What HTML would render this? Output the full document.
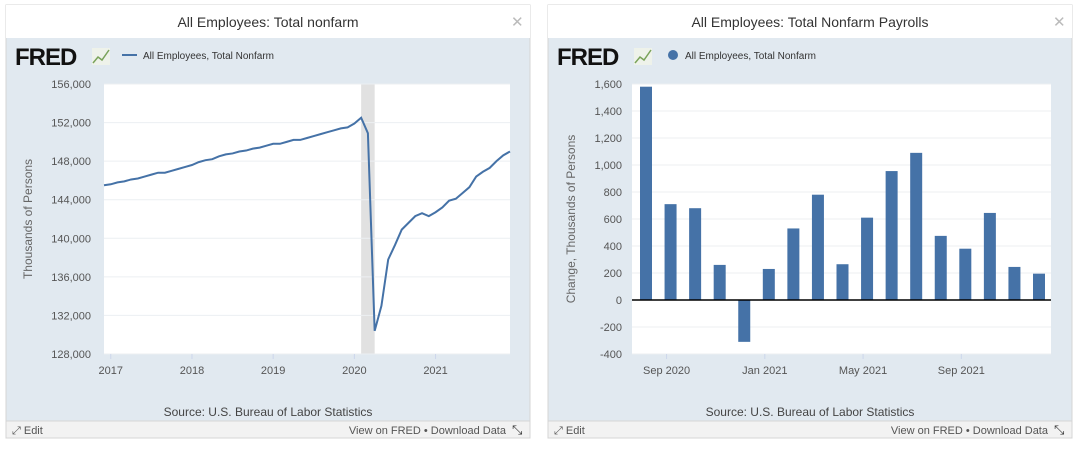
<!DOCTYPE html>
<html><head><meta charset="utf-8"><style>
body{margin:0;width:1080px;height:444px;background:#fff;font-family:"Liberation Sans",sans-serif;overflow:hidden}
svg text{font-family:"Liberation Sans",sans-serif}
</style></head><body>
<svg id="s" width="1080" height="444">
</svg>
<script>
const lineMonths = 61; // Dec 2016 .. Dec 2021
const lineValues = [145500,
145600,145800,145900,146100,146200,146400,146600,146800,146800,147000,147200,147400,
147600,147900,148100,148200,148500,148700,148800,149000,149100,149300,149400,149600,
149800,149800,150000,150200,150200,150400,150600,150800,151000,151200,151400,151500,
151900,152500,150900,130400,133000,137800,139300,140900,141600,142300,142600,142300,
142700,143200,143900,144100,144700,145300,146400,146900,147300,148000,148600,149000];
const lineYTicks = [128000,132000,136000,140000,144000,148000,152000,156000];
const lineXTicks = ["2017","2018","2019","2020","2021"];
const barCats = ["Aug 2020","Sep 2020","Oct 2020","Nov 2020","Dec 2020","Jan 2021","Feb 2021","Mar 2021","Apr 2021","May 2021","Jun 2021","Jul 2021","Aug 2021","Sep 2021","Oct 2021","Nov 2021","Dec 2021"];
const barValues = [1580,710,680,260,-310,230,530,780,265,610,955,1090,475,380,645,245,195];
const barYTicks = [-400,-200,0,200,400,600,800,1000,1200,1400,1600];
const barXTicks = [["Sep 2020",1],["Jan 2021",5],["May 2021",9],["Sep 2021",13]];

const s=document.getElementById('s');const NS='http://www.w3.org/2000/svg';
function el(t,a,p){const e=document.createElementNS(NS,t);for(const k in a)e.setAttribute(k,a[k]);(p||s).appendChild(e);return e;}
function txt(str,a,p){const e=el('text',a,p);e.textContent=str;return e;}
function fmt(v){return v.toLocaleString('en-US');}

function panel(ox,title,legendText,isBar){
  const g=el('g',{});
  
  
  el('rect',{x:ox,y:5,width:524,height:433,fill:'#e1e9f0',stroke:'#d5d5d5'},g);
  el('rect',{x:ox,y:5,width:524,height:33,fill:'#fff'},g);
  const t=txt(title,{x:ox+262,y:27,'text-anchor':'middle','font-size':14,fill:'#333'},g);
  
  const c=txt('✕',{x:ox+505,y:27,'font-size':15,fill:'#bbb'},g);
  
  const f=txt('FRED',{x:ox+9,y:65,'font-size':24,'font-weight':'bold',fill:'#111','letter-spacing':'-1'},g);
  
  el('rect',{x:ox+86,y:48,width:18,height:17,fill:'#eef2ea'},g);
  el('polyline',{points:`${ox+87},63 ${ox+92},57 ${ox+96},60 ${ox+103},50`,fill:'none',stroke:'#7aa35a','stroke-width':1.5},g);
  if(isBar) el('circle',{cx:ox+125,cy:55,r:5,fill:'#4572a7'},g);
  else el('line',{x1:ox+116,y1:55,x2:ox+131,y2:55,stroke:'#4572a7','stroke-width':2},g);
  const l=txt(legendText,{x:ox+137,y:59,'font-size':10,fill:'#333'},g);
  
  const src=txt('Source: U.S. Bureau of Labor Statistics',{x:ox+262,y:416,'text-anchor':'middle','font-size':12,fill:'#444'},g);
  
  el('rect',{x:ox,y:421,width:524,height:17,fill:'#f2f2f2',stroke:'#d5d5d5'},g);
  const e=txt('⤢ Edit',{x:ox+6,y:434,'font-size':11,fill:'#555'},g);
  
  const d=txt('View on FRED • Download Data',{x:ox+500,y:434,'text-anchor':'end','font-size':11,fill:'#555'},g);
  
  txt('⤡',{x:ox+506,y:434,'font-size':13,fill:'#333'},g);
  return g;
}

// Left line chart
{
  const g=panel(6,'All Employees: Total nonfarm','All Employees, Total Nonfarm',false);
  const L=104,R=510,T=84,B=354;
  const y=v=>B-(v-128000)/(156000-128000)*(B-T);
  const x=m=>L+m*(R-L)/(lineMonths-1);
  el('rect',{x:L,y:T,width:R-L,height:B-T,fill:'#fff'},g);
  const rec=el('rect',{x:x(38),y:T,width:x(40)-x(38),height:B-T,fill:'#e1e1e1'},g);
  
  lineYTicks.forEach(v=>{
    el('line',{x1:L,x2:R,y1:y(v),y2:y(v),stroke:'#eceff2'},g);
    const t=txt(fmt(v),{x:L-13,y:y(v)+4,'text-anchor':'end','font-size':11,fill:'#555'},g);
    
  });
  lineXTicks.forEach((lab,i)=>{
    const xx=x(1+12*i);
    el('line',{x1:xx,x2:xx,y1:B,y2:B+5,stroke:'#ccd6eb'},g);
    const t=txt(lab,{x:xx,y:B+20,'text-anchor':'middle','font-size':11,fill:'#555'},g);
    
  });
  const p=el('polyline',{points:lineValues.map((v,i)=>x(i)+','+y(v)).join(' '),fill:'none',stroke:'#4572a7','stroke-width':2},g);
  
  const at=txt('Thousands of Persons',{x:0,y:0,transform:`translate(32,219) rotate(-90)`,'text-anchor':'middle','font-size':12,fill:'#666'},g);
  
}
// Right bar chart
{
  const g=panel(548,'All Employees: Total Nonfarm Payrolls','All Employees, Total Nonfarm',true);
  const L=632,R=1051,T=84,B=354;
  const y=v=>B-(v+400)/2000*(B-T);
  const x=i=>646+i*(1039-646)/(barCats.length-1);
  el('rect',{x:L,y:T,width:R-L,height:B-T,fill:'#fff'},g);
  barYTicks.forEach(v=>{
    el('line',{x1:L,x2:R,y1:y(v),y2:y(v),stroke:'#eceff2'},g);
    const t=txt(fmt(v),{x:L-10,y:y(v)+4,'text-anchor':'end','font-size':11,fill:'#555'},g);
    
  });
  barXTicks.forEach(([lab,i])=>{
    const xx=x(i)-4;
    el('line',{x1:xx,x2:xx,y1:B,y2:B+5,stroke:'#ccd6eb'},g);
    const t=txt(lab,{x:xx,y:B+20,'text-anchor':'middle','font-size':11,fill:'#555'},g);
    
  });
  barValues.forEach((v,i)=>{
    const r=el('rect',{x:x(i)-6,y:Math.min(y(v),y(0)),width:12,height:Math.abs(y(v)-y(0)),fill:'#4572a7'},g);
    
    
  });
  el('line',{x1:L,x2:R,y1:y(0),y2:y(0),stroke:'#000','stroke-width':1.5},g);
  const at=txt('Change, Thousands of Persons',{x:0,y:0,transform:`translate(575,219) rotate(-90)`,'text-anchor':'middle','font-size':12,fill:'#666'},g);
  
}
</script>
</body></html>
